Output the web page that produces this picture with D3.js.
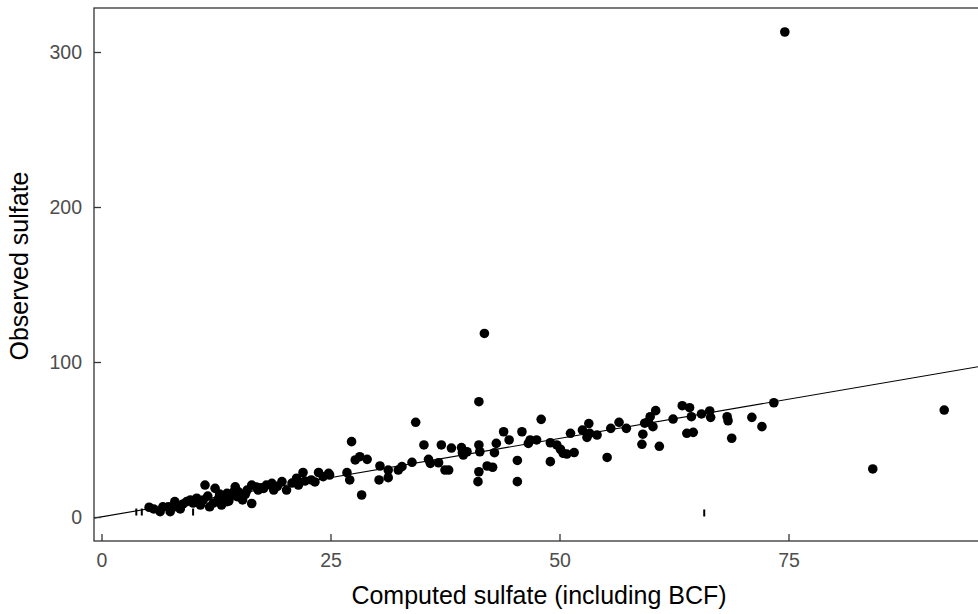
<!DOCTYPE html>
<html>
<head>
<meta charset="utf-8">
<script src="https://cdn.jsdelivr.net/npm/d3@7"></script>
<style>
  body { margin: 0; background: #fff; }
  text { font-family: Arial, "Liberation Sans", sans-serif; }
</style>
</head>
<body>
<div id="chart"></div>
<script>
// computed sulfate (x) vs observed sulfate (y)
const computed = [
  5.2, 6.4, 6.7, 7.3, 7.5, 8.0, 8.2, 9.3, 9.7, 10.4, 11.3, 12.4, 11.8, 10.8, 12.8, 13.3, 13.1, 13.7,
  14.6, 14.8, 15.1, 15.9, 16.4, 16.4, 17.1, 17.7, 18.6, 18.8, 19.7, 20.2, 21.3, 21.5, 22.0, 22.9,
  23.7, 24.2, 24.8, 23.3, 8.9, 10.0, 11.1, 12.2, 14.0, 15.4, 14.4, 16.9, 18.0, 20.8, 22.2, 13.7,
  13.9, 8.6, 5.7, 11.6, 12.9, 14.9, 15.7, 17.4, 19.2,
  24.9, 26.8, 27.1, 27.3, 27.7, 28.2, 29.0, 28.4, 30.4, 30.3, 31.3, 31.3, 32.4, 32.8, 33.9, 34.3,
  35.2, 35.7, 35.9, 36.8, 37.1, 37.5, 37.9, 38.2, 39.3, 39.4, 39.9, 39.5, 41.1, 41.2, 41.2, 41.2,
  41.3, 42.1, 42.7, 42.9, 43.1, 43.9, 44.5, 45.4, 45.4, 45.9, 46.6, 46.8, 47.5, 48.0, 49.0, 49.0,
  49.7, 50.1, 50.4, 50.8, 51.6, 51.2, 52.5, 53.2, 53.3, 53.0, 54.1, 55.2, 55.6, 56.5, 57.3,
  59.1, 59.0, 59.3, 59.7, 59.9, 60.5, 60.2, 60.9, 62.4, 63.4, 64.2, 63.9, 64.6, 64.4, 65.5, 66.4,
  66.5, 68.3, 68.4, 68.8, 71.0, 72.1, 73.4,
  74.6, 41.8, 92.0, 84.2
]
const observed = [
  6.3, 3.4, 6.6, 6.6, 3.4, 9.9, 6.6, 9.9, 11.0, 12.1, 20.6, 18.5, 6.6, 7.7, 12.1, 13.1, 7.7, 9.9,
  19.5, 13.1, 15.3, 17.4, 20.6, 8.7, 17.4, 18.5, 21.7, 17.4, 22.8, 17.4, 25.0, 20.6, 28.7, 23.9,
  28.7, 26.0, 28.2, 22.6, 8.4, 9.0, 11.0, 9.0, 12.9, 11.0, 16.1, 19.4, 20.6, 21.9, 23.2, 15.3,
  10.3, 5.2, 5.2, 13.5, 14.8, 16.5, 14.6, 18.8, 19.8,
  27.1, 28.6, 23.9, 48.6, 36.8, 38.9, 37.2, 14.2, 32.9, 23.9, 30.3, 25.4, 30.3, 32.5, 35.3, 61.1,
  46.5, 37.2, 34.6, 35.0, 46.5, 30.3, 30.3, 44.5, 44.8, 41.5, 42.1, 40.0, 22.8, 29.2, 74.4, 46.5,
  42.1, 32.9, 32.1, 41.5, 47.5, 55.0, 49.7, 36.5, 22.8, 55.0, 47.5, 49.7, 49.7, 63.0, 35.7, 47.9,
  46.5, 43.7, 41.1, 40.6, 41.6, 54.0, 56.1, 60.3, 54.0, 51.4, 52.9, 38.4, 57.2, 61.1, 57.2,
  53.4, 46.9, 60.5, 61.5, 64.7, 68.6, 58.3, 45.6, 63.2, 71.8, 70.5, 54.0, 54.6, 64.7, 66.5, 68.4,
  64.3, 64.7, 62.1, 50.8, 64.3, 58.3, 73.7,
  312.9, 118.4, 69.0, 31.0
]
// samples drawn with the "|" symbol
const barComputed = [3.8, 4.4, 10.0, 65.8]
const barObserved = [3.2, 3.2, 3.2, 2.6]

const xTicks = [0, 25, 50, 75]
const yTicks = [0, 100, 200, 300]
const fitIntercept = 0.1
const fitSlope = 1.012

const width = 978
const height = 614
const panel = { left: 94, top: 8, right: 990, bottom: 541 }

const svg = d3.select('#chart')
  .append('svg')
  .attr('width', width)
  .attr('height', height)

const x = d3.scaleLinear().domain([0, 75]).range([101.5, 788.5])
const y = d3.scaleLinear().domain([0, 300]).range([517, 52])

svg.append('clipPath')
  .attr('id', 'clip')
  .append('rect')
  .attr('x', panel.left)
  .attr('y', panel.top)
  .attr('width', panel.right - panel.left)
  .attr('height', panel.bottom - panel.top)

const plot = svg.append('g').attr('clip-path', 'url(#clip)')

const x0 = x.invert(panel.left)
const x1 = x.invert(panel.right)
plot.append('line')
  .attr('x1', x(x0))
  .attr('y1', y(fitIntercept + fitSlope * x0))
  .attr('x2', x(x1))
  .attr('y2', y(fitIntercept + fitSlope * x1))
  .attr('stroke', '#000')
  .attr('stroke-width', 1.1)

plot.selectAll('circle')
  .data(computed.map((c, i) => [c, observed[i]]))
  .enter()
  .append('circle')
  .attr('cx', d => x(d[0]))
  .attr('cy', d => y(d[1]))
  .attr('r', 4.8)
  .attr('fill', '#000')

plot.selectAll('line.bar')
  .data(barComputed.map((c, i) => [c, barObserved[i]]))
  .enter()
  .append('line')
  .attr('class', 'bar')
  .attr('x1', d => x(d[0]))
  .attr('x2', d => x(d[0]))
  .attr('y1', d => y(d[1]) - 3.5)
  .attr('y2', d => y(d[1]) + 3.5)
  .attr('stroke', '#000')
  .attr('stroke-width', 2)

// panel border (left, top, bottom)
svg.append('rect')
  .attr('x', panel.left)
  .attr('y', panel.top)
  .attr('width', panel.right - panel.left)
  .attr('height', panel.bottom - panel.top)
  .attr('fill', 'none')
  .attr('stroke', '#333')
  .attr('stroke-width', 1.3)

const xAxis = svg.append('g')
  .attr('transform', `translate(0,${panel.bottom})`)
  .call(d3.axisBottom(x).tickValues(xTicks).tickSize(-7).tickPadding(12))
const yAxis = svg.append('g')
  .attr('transform', `translate(${panel.left},0)`)
  .call(d3.axisLeft(y).tickValues(yTicks).tickSize(-7).tickPadding(12))

;[xAxis, yAxis].forEach(g => {
  g.select('.domain').remove()
  g.selectAll('.tick line').attr('stroke', '#333').attr('stroke-width', 1.3)
  g.selectAll('.tick text')
    .attr('fill', '#4d4d4d')
    .style('font-size', '19.5px')
    .style('font-family', 'Arial, "Liberation Sans", sans-serif')
})

svg.append('text')
  .attr('x', 539)
  .attr('y', 604)
  .attr('text-anchor', 'middle')
  .style('font-size', '25px')
  .attr('fill', '#000')
  .text('Computed sulfate (including BCF)')

svg.append('text')
  .attr('transform', 'translate(28,266) rotate(-90)')
  .attr('text-anchor', 'middle')
  .style('font-size', '25px')
  .attr('fill', '#000')
  .text('Observed sulfate')
</script>
</body>
</html>
